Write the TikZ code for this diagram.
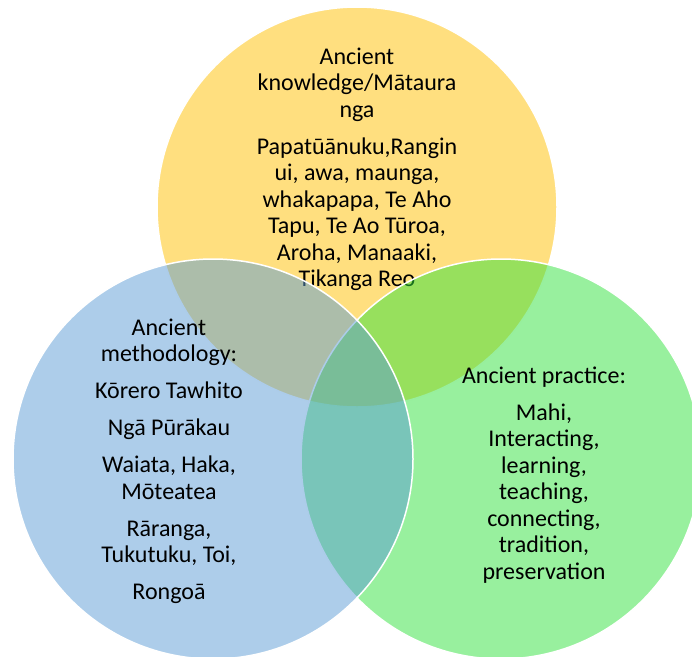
\documentclass[tikz,border=0pt]{standalone}
\usepackage{fontspec}
\setmainfont{Carlito}
\definecolor{cyel}{RGB}{255,192,0}
\definecolor{cblu}{RGB}{91,155,213}
\definecolor{cgrn}{RGB}{49,225,61}
\begin{document}
\begin{tikzpicture}[x=1pt,y=-1pt,
  venn/.style={fill opacity=0.5, draw=white, line width=1.5pt},
  lbl/.style={align=center, inner sep=0pt, anchor=north, font=\fontsize{24}{26.5}\selectfont, text=black}]
\useasboundingbox (0,0) rectangle (692,656);
\clip (0,0) rectangle (692,656);
\path[venn, fill=cyel] (357,207) circle [radius=200pt];
\node[lbl] (know) at (357,44) {\rule{0pt}{20pt}Ancient\\knowledge/Mātaura\\nga\\[10.5pt]Papatūānuku,Rangin\\ui, awa, maunga,\\whakapapa, Te Aho\\Tapu, Te Ao Tūroa,\\Aroha, Manaaki,\\Tikanga Reo};
\path[venn, fill=cgrn] (501,459) circle [radius=200pt];
\node[lbl] (prac) at (544,363) {\rule{0pt}{20pt}Ancient practice:\\[10.5pt]Mahi,\\Interacting,\\learning,\\teaching,\\connecting,\\tradition,\\preservation};
\path[venn, fill=cblu] (213,459) circle [radius=200pt];
\node[lbl] (meth) at (169,315) {\rule{0pt}{20pt}Ancient\\methodology:\\[10.5pt]Kōrero Tawhito\\[10.5pt]Ngā Pūrākau\\[10.5pt]Waiata, Haka,\\Mōteatea\\[10.5pt]Rāranga,\\Tukutuku, Toi,\\[10.5pt]Rongoā};
\end{tikzpicture}
\end{document}
